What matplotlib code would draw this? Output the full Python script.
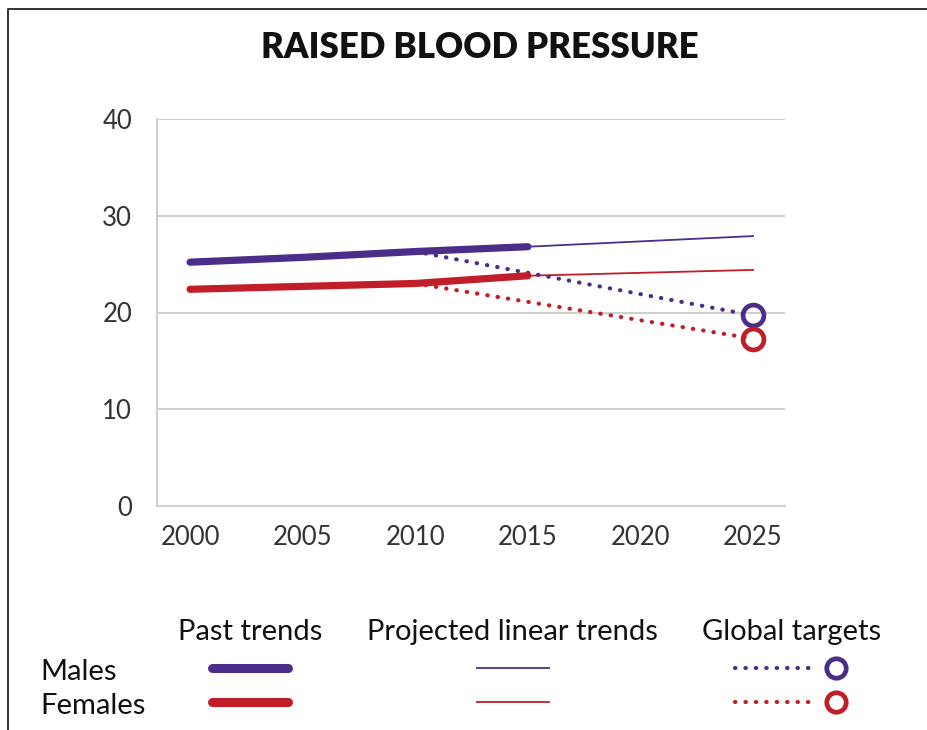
import matplotlib
matplotlib.use('Agg')
import matplotlib.pyplot as plt
from matplotlib.lines import Line2D

# Data
years_past = [2000, 2005, 2010, 2015]
male_past = [25.2, 25.7, 26.3, 26.8]
female_past = [22.4, 22.7, 23.0, 23.8]

years_proj = [2015, 2025]
male_proj = [26.8, 27.9]
female_proj = [23.8, 24.4]

years_target = [2010, 2025]
male_target = [26.3, 19.7]
female_target = [23.0, 17.3]

x_ticks = [2000, 2005, 2010, 2015, 2020, 2025]
y_ticks = [0, 10, 20, 30, 40]

title = 'RAISED BLOOD PRESSURE'
col_labels = ['Past trends', 'Projected linear trends', 'Global targets']
row_labels = ['Males', 'Females']

BLUE = '#4a2e8a'
RED = '#c01f2a'
GRID = '#d0d0cc'
TEXT = '#333333'
FONT = ['Lato', 'DejaVu Sans']
DOT = (0, (0.1, 2.4))

plt.rcParams['font.family'] = FONT

fig = plt.figure(figsize=(9.27, 7.30), dpi=100)
W, H = 927, 730

# frame lines round the picture (top and left only)
bg = fig.add_axes([0, 0, 1, 1])
bg.set_xlim(0, W)
bg.set_ylim(H, 0)
bg.axis('off')
bg.plot([8, 8, W], [H, 9, 9], color='#222222', lw=1.3)

# main chart
ax = fig.add_axes([157 / W, 1 - 506 / H, 628 / W, 387 / H])
ax.set_xlim(1998.53, 2026.42)
ax.set_ylim(0, 40)
for s in ['top', 'right']:
  ax.spines[s].set_visible(False)
for s in ['left', 'bottom']:
  ax.spines[s].set_color(GRID)
  ax.spines[s].set_linewidth(1.5)
ax.set_xticks(x_ticks)
ax.set_yticks(y_ticks)
ax.tick_params(length=0, labelsize=18.5, labelcolor=TEXT)
ax.tick_params(axis='x', pad=14)
ax.tick_params(axis='y', pad=18)
ax.grid(axis='y', color=GRID, lw=1.5)
ax.set_axisbelow(True)

ax.plot(years_proj, male_proj, color=BLUE, lw=1.3, zorder=3)
ax.plot(years_proj, female_proj, color=RED, lw=1.3, zorder=3)
ax.plot(years_target, male_target, color=BLUE, lw=3, ls=DOT,
  dash_capstyle='round', zorder=3)
ax.plot(years_target, female_target, color=RED, lw=3, ls=DOT,
  dash_capstyle='round', zorder=3)
ax.plot(years_past, male_past, color=BLUE, lw=5.2, solid_capstyle='round', zorder=4)
ax.plot(years_past, female_past, color=RED, lw=5.2, solid_capstyle='round', zorder=4)
ax.plot(years_target[-1], male_target[-1], 'o', ms=15, mfc='none', mec=BLUE,
  mew=3.4, zorder=5)
ax.plot(years_target[-1], female_target[-1], 'o', ms=15, mfc='none', mec=RED,
  mew=3.4, zorder=5)

fig.text(480 / W, 1 - 48 / H, title, ha='center', va='center', fontsize=25,
  fontweight='heavy', color='#111111')

# legend, drawn in pixel space
col_x = [250, 512, 792]
for x, lab in zip(col_x, col_labels):
  bg.text(x, 632, lab, ha='center', va='center', fontsize=21, color='#111111')
row_y = [669, 703]
for y, lab in zip(row_y, row_labels):
  bg.text(40, y + 3, lab, ha='left', va='center', fontsize=21, color='#111111')
for y, c in zip(row_y, [BLUE, RED]):
  bg.add_line(Line2D([212, 288], [y - 1, y - 1], color=c, lw=6.5,
    solid_capstyle='round'))
  bg.add_line(Line2D([477, 549], [y - 1, y - 1], color=c, lw=1.3))
  bg.add_line(Line2D([735, 815], [y - 1, y - 1], color=c, lw=3, ls=DOT,
    dash_capstyle='round'))
  bg.plot(836, y - 1, 'o', ms=14, mfc='white', mec=c, mew=3.4)

fig.savefig('out.png', dpi=100)
